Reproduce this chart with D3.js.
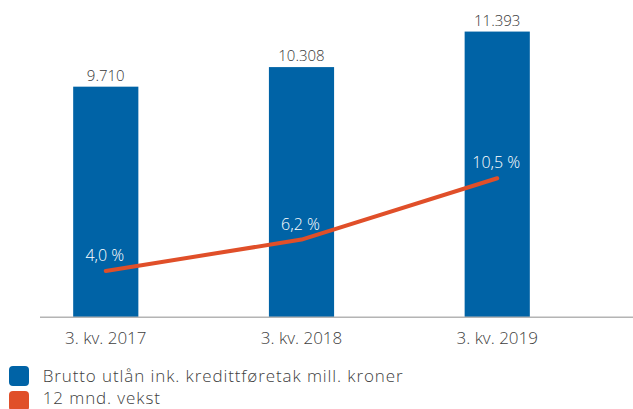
<!DOCTYPE html>
<html>
<head>
<meta charset="utf-8">
<script src="https://cdn.jsdelivr.net/npm/d3@7"></script>
<style>
  body { margin: 0; background: #fff; }
  text { font-family: "Open Sans", Lato, sans-serif; font-weight: 300; }
</style>
</head>
<body>
<div id="chart"></div>
<script>
// Data
var categories = ["3. kv. 2017", "3. kv. 2018", "3. kv. 2019"];
var lending = [9710, 10308, 11393];          // mill. kroner
var growth = [4.0, 6.2, 10.5];               // 12 mnd. vekst, %
var lendingLabels = ["9.710", "10.308", "11.393"];
var growthLabels = ["4,0 %", "6,2 %", "10,5 %"];
var seriesNames = ["Brutto utlån ink. kredittføretak mill. kroner", "12 mnd. vekst"];

var svgWidth = 633;
var svgHeight = 409;
var baseY = 317.3;

var blue = "#0063a6";
var orange = "#e04f29";

var svg = d3.select("#chart")
  .append("svg")
  .attr("width", svgWidth)
  .attr("height", svgHeight);

// Scales
var x = d3.scaleBand()
  .domain(categories)
  .range([8, 595])
  .paddingInner(0.667)
  .paddingOuter(0.333);

var y = d3.scaleLinear()
  .domain([2665, 12000])
  .range([baseY, 11.7]);

var y2 = d3.scaleLinear()
  .domain([0.75, 21])
  .range([baseY, 28.5]);

// Bars
svg.append("g")
  .selectAll("rect")
  .data(lending)
  .enter()
  .append("rect")
    .attr("x", (d, i) => x(categories[i]))
    .attr("y", d => y(d))
    .attr("width", x.bandwidth())
    .attr("height", d => baseY - y(d))
    .attr("fill", blue);

// Bar value labels
svg.append("g")
  .selectAll("text")
  .data(lending)
  .enter()
  .append("text")
    .attr("x", (d, i) => x(categories[i]) + x.bandwidth() / 2)
    .attr("y", d => y(d) - 6)
    .attr("text-anchor", "middle")
    .attr("font-size", 15)
    .attr("fill", "#383838")
    .text((d, i) => lendingLabels[i]);

// X axis baseline
svg.append("line")
  .attr("x1", 40)
  .attr("x2", svgWidth)
  .attr("y1", baseY)
  .attr("y2", baseY)
  .attr("stroke", "#b4b4b4")
  .attr("stroke-width", 1.5);

// Category labels
svg.append("g")
  .selectAll("text")
  .data(categories)
  .enter()
  .append("text")
    .attr("x", d => x(d) + x.bandwidth() / 2)
    .attr("y", 344.3)
    .attr("text-anchor", "middle")
    .attr("font-size", 17)
    .attr("fill", "#404040")
    .text(d => d);

// Growth line
var line = d3.line()
  .x((d, i) => x(categories[i]) + x.bandwidth() / 2)
  .y(d => y2(d));

svg.append("path")
  .datum(growth)
  .attr("d", line)
  .attr("fill", "none")
  .attr("stroke", orange)
  .attr("stroke-width", 4)
  .attr("stroke-linejoin", "round")
  .attr("stroke-linecap", "round");

// Growth labels
svg.append("g")
  .selectAll("text")
  .data(growth)
  .enter()
  .append("text")
    .attr("x", (d, i) => x(categories[i]) + x.bandwidth() / 2 - 1)
    .attr("y", d => y2(d) - 10)
    .attr("text-anchor", "middle")
    .attr("font-size", 16)
    .attr("fill", "#ffffff")
    .text((d, i) => growthLabels[i]);

// Legend
var legend = svg.append("g")
  .selectAll("g")
  .data(seriesNames)
  .enter()
  .append("g")
    .attr("transform", (d, i) => `translate(9, ${366 + i * 25})`);

legend.append("rect")
  .attr("width", 20)
  .attr("height", 20)
  .attr("rx", 4)
  .attr("fill", (d, i) => i === 0 ? blue : orange);

legend.append("text")
  .attr("x", 33.7)
  .attr("y", (d, i) => i === 0 ? 15.5 : 12.5)
  .attr("font-size", 17)
  .attr("letter-spacing", 0.9)
  .attr("fill", "#404040")
  .text(d => d);
</script>
</body>
</html>
